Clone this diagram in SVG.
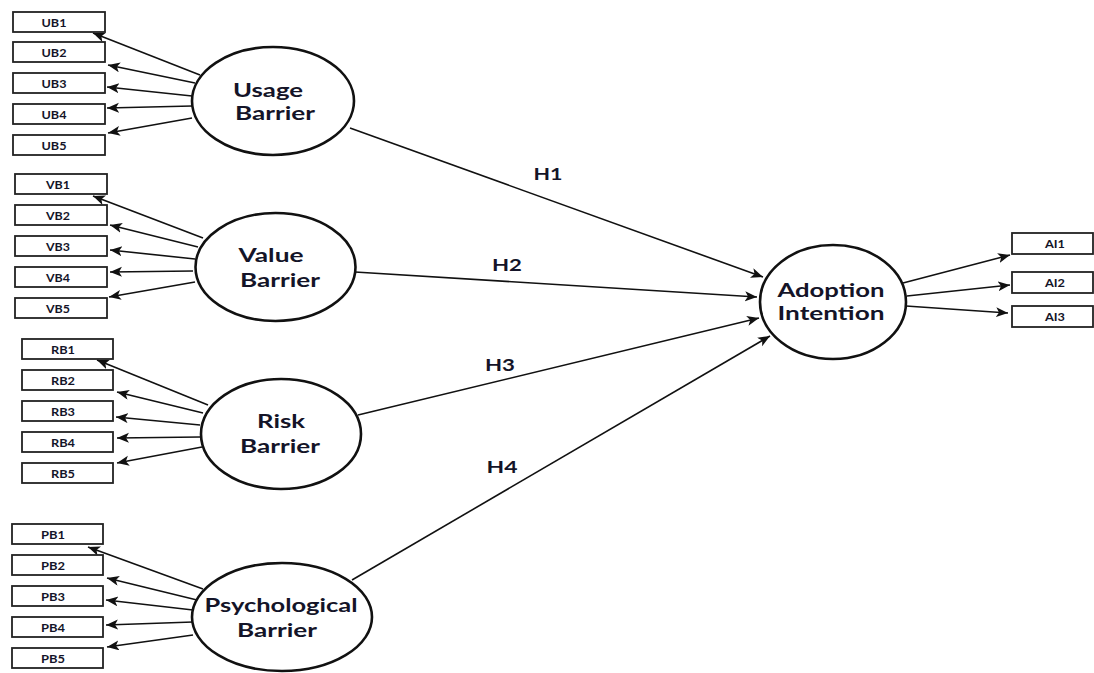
<svg xmlns="http://www.w3.org/2000/svg" width="1094" height="673" viewBox="0 0 1094 673">
<style>
.bg{fill:#fff}
.lat{fill:#fff;stroke:#111;stroke-width:2.6}
.box{fill:#fff;stroke:#222;stroke-width:1.8}
.lt{font-family:Lato,"Open Sans",sans-serif;font-weight:bold;font-size:19px;fill:#141428;text-anchor:middle}
.bt{font-family:Lato,"Open Sans",sans-serif;font-weight:bold;font-size:11px;fill:#141428;text-anchor:middle}
.ht{font-family:Lato,"Open Sans",sans-serif;font-weight:bold;font-size:17px;fill:#141428;text-anchor:middle}
.c{stroke:#111;stroke-width:1.6;fill:none;marker-end:url(#ah)}
</style>
<defs>
<marker id="ah" markerUnits="userSpaceOnUse" markerWidth="13" markerHeight="11" refX="12" refY="5" orient="auto">
<path d="M0,0 L12,5 L0,10 L3,5 z" fill="#111"/>
</marker>
</defs>
<rect class="bg" x="0" y="0" width="1094" height="673"/>
<g id="connectors">
<line class="c" x1="200" y1="75" x2="93" y2="33"/>
<line class="c" x1="195" y1="83" x2="108" y2="65"/>
<line class="c" x1="192" y1="96" x2="107" y2="87"/>
<line class="c" x1="192" y1="106" x2="107" y2="108"/>
<line class="c" x1="192" y1="118" x2="108" y2="133"/>
<line class="c" x1="203" y1="238" x2="93" y2="196"/>
<line class="c" x1="198" y1="247" x2="110" y2="225"/>
<line class="c" x1="195" y1="259" x2="110" y2="250"/>
<line class="c" x1="193" y1="271" x2="110" y2="272"/>
<line class="c" x1="195" y1="282" x2="109" y2="297"/>
<line class="c" x1="208" y1="405" x2="97" y2="360"/>
<line class="c" x1="203" y1="413" x2="117" y2="392"/>
<line class="c" x1="200" y1="425" x2="116" y2="417"/>
<line class="c" x1="200" y1="437" x2="117" y2="438"/>
<line class="c" x1="202" y1="447" x2="117" y2="463"/>
<line class="c" x1="203" y1="589" x2="88" y2="547"/>
<line class="c" x1="197" y1="600" x2="107" y2="578"/>
<line class="c" x1="193" y1="610" x2="106" y2="600"/>
<line class="c" x1="193" y1="622" x2="106" y2="625"/>
<line class="c" x1="193" y1="635" x2="107" y2="647"/>
<line class="c" x1="350" y1="128" x2="763" y2="277"/>
<line class="c" x1="355" y1="272" x2="757" y2="297"/>
<line class="c" x1="358" y1="415" x2="759" y2="318"/>
<line class="c" x1="352" y1="580" x2="770" y2="336"/>
<line class="c" x1="903" y1="283" x2="1010" y2="255"/>
<line class="c" x1="907" y1="296" x2="1010" y2="285"/>
<line class="c" x1="906" y1="306" x2="1008" y2="313"/>
<text class="ht" x="548" y="180" textLength="29" lengthAdjust="spacingAndGlyphs">H1</text>
<text class="ht" x="507" y="271" textLength="30" lengthAdjust="spacingAndGlyphs">H2</text>
<text class="ht" x="500" y="371" textLength="30" lengthAdjust="spacingAndGlyphs">H3</text>
<text class="ht" x="502" y="473" textLength="31" lengthAdjust="spacingAndGlyphs">H4</text>
</g>
<g id="usage-barrier">
<ellipse class="lat" cx="273" cy="101" rx="81" ry="54"/>
<text class="lt" x="268" y="97" textLength="70" lengthAdjust="spacingAndGlyphs">Usage</text>
<text class="lt" x="275" y="120" textLength="80" lengthAdjust="spacingAndGlyphs">Barrier</text>
</g>
<g id="value-barrier">
<ellipse class="lat" cx="275.5" cy="267" rx="80" ry="54"/>
<text class="lt" x="271" y="262" textLength="65" lengthAdjust="spacingAndGlyphs">Value</text>
<text class="lt" x="280" y="287" textLength="80" lengthAdjust="spacingAndGlyphs">Barrier</text>
</g>
<g id="risk-barrier">
<ellipse class="lat" cx="281" cy="434" rx="80" ry="55"/>
<text class="lt" x="281" y="428" textLength="48" lengthAdjust="spacingAndGlyphs">Risk</text>
<text class="lt" x="280" y="453" textLength="80" lengthAdjust="spacingAndGlyphs">Barrier</text>
</g>
<g id="psychological-barrier">
<ellipse class="lat" cx="282" cy="617" rx="90" ry="54"/>
<text class="lt" x="281" y="612" textLength="153" lengthAdjust="spacingAndGlyphs">Psychological</text>
<text class="lt" x="277" y="637" textLength="80" lengthAdjust="spacingAndGlyphs">Barrier</text>
</g>
<g id="adoption-intention">
<ellipse class="lat" cx="833" cy="302" rx="73" ry="57"/>
<text class="lt" x="831" y="297" textLength="107" lengthAdjust="spacingAndGlyphs">Adoption</text>
<text class="lt" x="831" y="320" textLength="107" lengthAdjust="spacingAndGlyphs">Intention</text>
</g>
<g id="UB1"><rect class="box" x="13" y="12" width="92" height="20"/><text class="bt" x="54" y="27" textLength="25" lengthAdjust="spacingAndGlyphs">UB1</text></g>
<g id="UB2"><rect class="box" x="13" y="42" width="92" height="20"/><text class="bt" x="54" y="57" textLength="25" lengthAdjust="spacingAndGlyphs">UB2</text></g>
<g id="UB3"><rect class="box" x="13" y="73" width="92" height="20"/><text class="bt" x="54" y="88" textLength="25" lengthAdjust="spacingAndGlyphs">UB3</text></g>
<g id="UB4"><rect class="box" x="13" y="104" width="92" height="20"/><text class="bt" x="54" y="119" textLength="25" lengthAdjust="spacingAndGlyphs">UB4</text></g>
<g id="UB5"><rect class="box" x="13" y="135" width="92" height="20"/><text class="bt" x="54" y="150" textLength="25" lengthAdjust="spacingAndGlyphs">UB5</text></g>
<g id="VB1"><rect class="box" x="15" y="174" width="92" height="20"/><text class="bt" x="58" y="189" textLength="24" lengthAdjust="spacingAndGlyphs">VB1</text></g>
<g id="VB2"><rect class="box" x="15" y="205" width="92" height="20"/><text class="bt" x="58" y="220" textLength="24" lengthAdjust="spacingAndGlyphs">VB2</text></g>
<g id="VB3"><rect class="box" x="15" y="236" width="92" height="20"/><text class="bt" x="58" y="251" textLength="24" lengthAdjust="spacingAndGlyphs">VB3</text></g>
<g id="VB4"><rect class="box" x="15" y="267" width="92" height="20"/><text class="bt" x="58" y="282" textLength="24" lengthAdjust="spacingAndGlyphs">VB4</text></g>
<g id="VB5"><rect class="box" x="15" y="298" width="92" height="20"/><text class="bt" x="58" y="313" textLength="24" lengthAdjust="spacingAndGlyphs">VB5</text></g>
<g id="RB1"><rect class="box" x="22" y="339" width="91" height="20"/><text class="bt" x="63" y="354" textLength="24" lengthAdjust="spacingAndGlyphs">RB1</text></g>
<g id="RB2"><rect class="box" x="22" y="370" width="91" height="20"/><text class="bt" x="63" y="385" textLength="24" lengthAdjust="spacingAndGlyphs">RB2</text></g>
<g id="RB3"><rect class="box" x="22" y="401" width="91" height="20"/><text class="bt" x="63" y="416" textLength="24" lengthAdjust="spacingAndGlyphs">RB3</text></g>
<g id="RB4"><rect class="box" x="22" y="432" width="91" height="20"/><text class="bt" x="63" y="447" textLength="24" lengthAdjust="spacingAndGlyphs">RB4</text></g>
<g id="RB5"><rect class="box" x="22" y="463" width="91" height="20"/><text class="bt" x="63" y="478" textLength="24" lengthAdjust="spacingAndGlyphs">RB5</text></g>
<g id="PB1"><rect class="box" x="12" y="524" width="91" height="20"/><text class="bt" x="53" y="539" textLength="24" lengthAdjust="spacingAndGlyphs">PB1</text></g>
<g id="PB2"><rect class="box" x="12" y="555" width="91" height="20"/><text class="bt" x="53" y="570" textLength="24" lengthAdjust="spacingAndGlyphs">PB2</text></g>
<g id="PB3"><rect class="box" x="12" y="586" width="91" height="20"/><text class="bt" x="53" y="601" textLength="24" lengthAdjust="spacingAndGlyphs">PB3</text></g>
<g id="PB4"><rect class="box" x="12" y="617" width="91" height="20"/><text class="bt" x="53" y="632" textLength="24" lengthAdjust="spacingAndGlyphs">PB4</text></g>
<g id="PB5"><rect class="box" x="12" y="648" width="91" height="20"/><text class="bt" x="53" y="663" textLength="24" lengthAdjust="spacingAndGlyphs">PB5</text></g>
<g id="AI1"><rect class="box" x="1012" y="233" width="81" height="21"/><text class="bt" x="1055" y="248" textLength="20" lengthAdjust="spacingAndGlyphs">AI1</text></g>
<g id="AI2"><rect class="box" x="1012" y="272" width="81" height="21"/><text class="bt" x="1055" y="287" textLength="20" lengthAdjust="spacingAndGlyphs">AI2</text></g>
<g id="AI3"><rect class="box" x="1012" y="306" width="81" height="21"/><text class="bt" x="1055" y="321" textLength="20" lengthAdjust="spacingAndGlyphs">AI3</text></g>
</svg>
